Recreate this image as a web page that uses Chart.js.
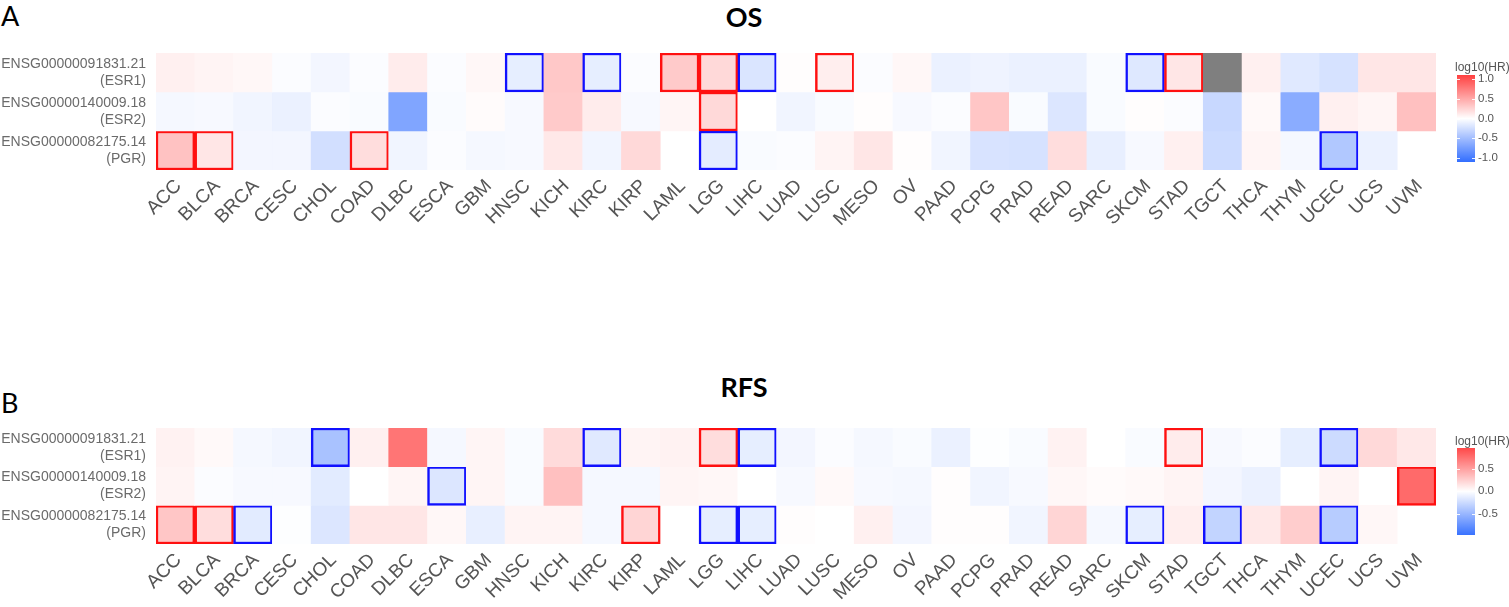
<!DOCTYPE html>
<html>
<head>
<meta charset="utf-8">
<script src="https://cdn.jsdelivr.net/npm/chart.js@4.4.1/dist/chart.umd.min.js"></script>
<style>
  body { margin: 0; background: #fff; }
  #page { position: relative; width: 1509px; height: 607px; overflow: hidden; font-family: "Liberation Sans", Arial, sans-serif; }
  .panel { position: absolute; left: 0; width: 1509px; }
  .letter { position: absolute; left: 1px; font-family: Lato, "Open Sans", sans-serif; font-size: 27px; color: #000; line-height: 1; }
  .title { position: absolute; width: 200px; text-align: center; font-family: Lato, "Open Sans", sans-serif; font-weight: bold; font-size: 27px; color: #000; line-height: 1; }
  .legend { position: absolute; left: 1455px; width: 54px; }
  .legend .lt { position: absolute; left: 0; font-size: 12px; color: #555; white-space: nowrap; }
  .legend .bar { position: absolute; left: 2px; width: 18px; }
  .legend .tk { position: absolute; left: 23px; font-size: 11.5px; color: #555; line-height: 1; }
  .legend .mk { position: absolute; height: 1px; width: 3px; background: rgba(255,255,255,0.9); }
</style>
</head>
<body>
<div id="page">
  <div class="letter" style="top:2px">A</div>
  <div class="title" style="left:644px; top:3px">OS</div>
  <div class="panel" style="top:0"><canvas id="osChart" width="1509" height="300"></canvas></div>
  <div class="legend" id="osLegend" style="top:60px"></div>

  <div class="letter" style="top:389px">B</div>
  <div class="title" style="left:644px; top:373px">RFS</div>
  <div class="panel" style="top:374px"><canvas id="rfsChart" width="1509" height="233"></canvas></div>
  <div class="legend" id="rfsLegend" style="top:434px"></div>
</div>

<script>
const cancers = ['ACC', 'BLCA', 'BRCA', 'CESC', 'CHOL', 'COAD', 'DLBC', 'ESCA', 'GBM', 'HNSC', 'KICH', 'KIRC', 'KIRP', 'LAML', 'LGG', 'LIHC', 'LUAD', 'LUSC', 'MESO', 'OV', 'PAAD', 'PCPG', 'PRAD', 'READ', 'SARC', 'SKCM', 'STAD', 'TGCT', 'THCA', 'THYM', 'UCEC', 'UCS', 'UVM'];
const genes = [
    ['ENSG00000091831.21', '(ESR1)'],
    ['ENSG00000140009.18', '(ESR2)'],
    ['ENSG00000082175.14', '(PGR)']
];

// log10(HR), OS.  null = no tile, NaN = NA (grey tile)
const osESR1 = [0.08, 0.06, 0.04, -0.02, -0.06, -0.02, 0.10, -0.02, 0.04, -0.12, 0.29, -0.12, -0.02, 0.28, 0.20, -0.18, 0.01, 0.09, -0.02, 0.04, -0.10, -0.08, -0.10, -0.10, -0.03, -0.16, 0.13, NaN, 0.08, -0.15, -0.20, 0.13, 0.13];
const osESR2 = [-0.05, -0.04, -0.07, -0.10, -0.02, -0.03, -0.62, -0.03, 0.02, -0.04, 0.28, 0.10, -0.04, 0.05, 0.20, 0.00, -0.07, -0.03, 0.01, -0.04, -0.02, 0.30, -0.03, -0.17, -0.03, 0.01, -0.02, -0.27, 0.03, -0.57, 0.08, 0.05, 0.33];
const osPGR = [0.32, 0.13, -0.06, -0.06, -0.22, 0.18, -0.07, -0.02, -0.05, -0.04, 0.12, -0.07, 0.20, null, -0.13, -0.03, -0.02, 0.06, 0.13, 0.01, -0.07, -0.19, -0.20, 0.18, -0.11, -0.04, 0.08, -0.25, 0.05, -0.05, -0.38, -0.10, null];
const osSig = [
    ['HNSC', 'KIRC', 'LAML', 'LGG', 'LIHC', 'LUSC', 'SKCM', 'STAD'],
    ['LGG'],
    ['ACC', 'BLCA', 'COAD', 'LGG', 'UCEC']
];

// log10(HR), RFS
const rfsESR1 = [0.07, 0.03, -0.05, -0.07, -0.42, 0.08, 0.72, -0.05, 0.05, -0.03, 0.19, -0.15, 0.06, 0.07, 0.18, -0.12, -0.06, -0.02, -0.05, -0.03, -0.10, -0.01, -0.03, 0.07, 0.00, -0.03, 0.10, -0.04, -0.02, -0.12, -0.25, 0.20, 0.12];
const rfsESR2 = [0.06, -0.02, -0.04, -0.04, -0.14, 0.00, 0.05, -0.17, 0.05, -0.03, 0.33, -0.05, -0.05, 0.05, 0.04, 0.00, -0.04, 0.03, -0.04, -0.05, 0.01, -0.07, -0.04, 0.04, 0.02, 0.03, 0.06, -0.06, -0.10, 0.00, 0.06, null, 0.78];
const rfsPGR = [0.30, 0.18, -0.14, -0.01, -0.17, 0.13, 0.13, 0.04, -0.11, 0.06, 0.06, -0.05, 0.22, null, -0.12, -0.12, 0.01, 0.00, 0.08, -0.06, 0.01, 0.01, -0.07, 0.22, -0.05, -0.12, 0.09, -0.30, 0.12, 0.26, -0.35, 0.04, null];
const rfsSig = [
    ['CHOL', 'KIRC', 'LGG', 'LIHC', 'STAD', 'UCEC'],
    ['ESCA', 'UVM'],
    ['ACC', 'BLCA', 'BRCA', 'KIRP', 'LGG', 'LIHC', 'SKCM', 'TGCT', 'UCEC']
];

const osLegendTicks = [1.0, 0.5, 0.0, -0.5, -1.0];
const osLegendRange = [-1.1, 1.1];
const rfsLegendTicks = [0.5, 0.0, -0.5];
const rfsLegendRange = [-0.97, 0.96];

const RED = [255, 64, 64];
const BLUE = [50, 110, 255];

function heatColor(v) {
    if (Number.isNaN(v)) return '#7f7f7f';
    const t = Math.max(-1, Math.min(1, v));
    const end = t >= 0 ? RED : BLUE;
    const f = Math.abs(t);
    const c = end.map(e => Math.round(255 + (e - 255) * f));
    return `rgb(${c[0]}, ${c[1]}, ${c[2]})`;
}

function buildDatasets(rows, sig) {
    return rows.map((vals, r) => ({
        label: genes[r][1],
        data: vals.map(v => v === null ? null : [r - 0.5, r + 0.5]),
        backgroundColor: vals.map(v => v === null ? 'rgba(0,0,0,0)' : heatColor(v)),
        borderColor: vals.map(v => v > 0 ? '#ff1010' : '#1010ff'),
        borderWidth: vals.map((v, j) => sig[r].includes(cancers[j]) ? 2.5 : 0),
        borderSkipped: false,
        grouped: false,
        barPercentage: 1,
        categoryPercentage: 1
    }));
}

function makeHeatmap(canvasId, rows, sig, plotTop, plotBottom) {
    const ctx = document.getElementById(canvasId)?.getContext('2d');
    if (!ctx) return;
    const canvasHeight = ctx.canvas.height;
    new Chart(ctx, {
        type: 'bar',
        data: {
            labels: cancers,
            datasets: buildDatasets(rows, sig)
        },
        options: {
            responsive: false,
            animation: false,
            events: [],
            layout: {
                padding: { top: plotTop, left: 0, right: 73, bottom: 0 }
            },
            plugins: {
                legend: { display: false },
                tooltip: { enabled: false }
            },
            scales: {
                x: {
                    type: 'category',
                    grid: { display: false, drawTicks: false },
                    border: { display: false },
                    ticks: {
                        autoSkip: false,
                        minRotation: 45,
                        maxRotation: 45,
                        padding: 5,
                        labelOffset: 3,
                        color: '#555555',
                        font: { family: 'Liberation Sans, Arial, sans-serif', size: 19 }
                    },
                    afterFit: scale => { scale.height = canvasHeight - plotBottom; }
                },
                y: {
                    type: 'linear',
                    min: -0.5,
                    max: 2.5,
                    reverse: true,
                    grid: { display: false, drawTicks: false },
                    border: { display: false },
                    afterBuildTicks: scale => { scale.ticks = genes.map((g, i) => ({ value: i })); },
                    ticks: {
                        padding: 10,
                        color: '#6b6b6b',
                        font: { family: 'Liberation Sans, Arial, sans-serif', size: 14, lineHeight: 1.2 },
                        callback: value => genes[value] || ''
                    },
                    afterFit: scale => { scale.width = 156; }
                }
            }
        }
    });
}

function makeLegend(id, ticks, range, barTop, barHeight) {
    const box = document.getElementById(id);
    if (!box) return;
    const [lo, hi] = range;
    const zeroPct = (hi / (hi - lo)) * 100;
    let html = `<div class="lt" style="top:0">log10(HR)</div>`;
    html += `<div class="bar" style="top:${barTop}px;height:${barHeight}px;background:linear-gradient(to bottom, ${heatColor(hi)} 0%, #ffffff ${zeroPct}%, ${heatColor(lo)} 100%)"></div>`;
    ticks.forEach(t => {
        const y = barTop + (hi - t) / (hi - lo) * barHeight;
        html += `<div class="mk" style="left:2px;top:${y}px"></div><div class="mk" style="left:17px;top:${y}px"></div>`;
        html += `<div class="tk" style="top:${y - 6}px">${t.toFixed(1)}</div>`;
    });
    box.innerHTML = html;
}

document.addEventListener('DOMContentLoaded', () => {
    makeHeatmap('osChart', [osESR1, osESR2, osPGR], osSig, 53, 170);
    makeHeatmap('rfsChart', [rfsESR1, rfsESR2, rfsPGR], rfsSig, 54, 170);
    makeLegend('osLegend', osLegendTicks, osLegendRange, 15, 87);
    makeLegend('rfsLegend', rfsLegendTicks, rfsLegendRange, 14, 87);
});
</script>
</body>
</html>
